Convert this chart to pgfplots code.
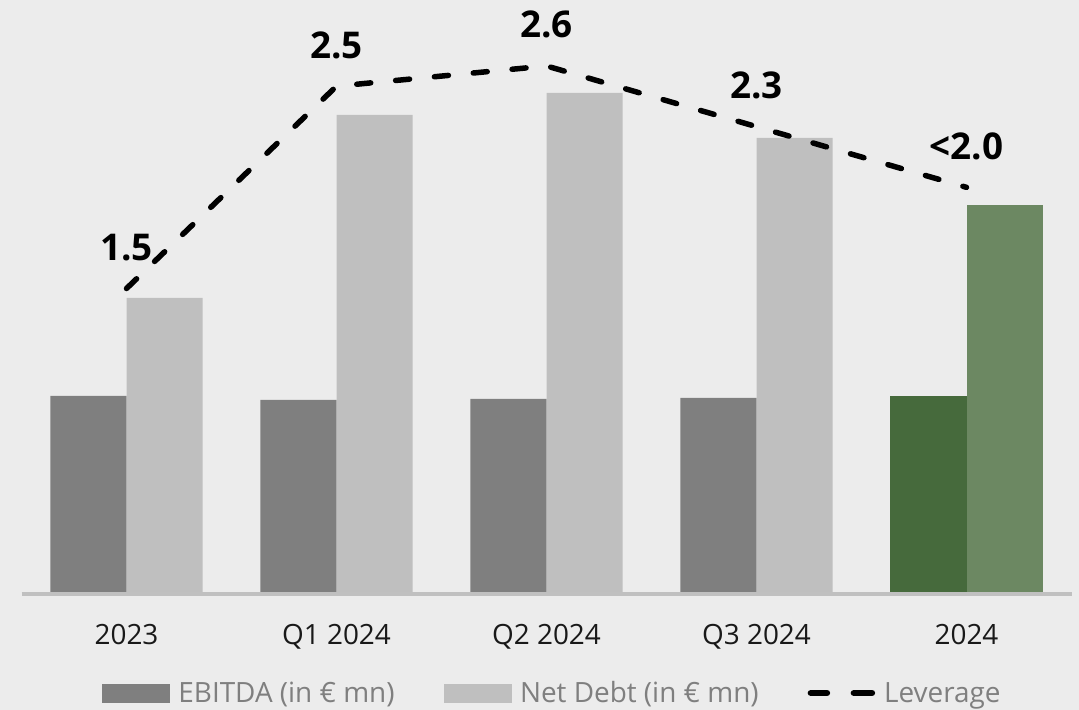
\documentclass[border=0pt]{standalone}
\usepackage{fontspec}
\setmainfont{Open Sans}
\usepackage{pgfplots}
\pgfplotsset{compat=1.18}
\definecolor{bg}{HTML}{ECECEC}
\definecolor{ebitda}{HTML}{7F7F7F}
\definecolor{netdebt}{HTML}{BFBFBF}
\definecolor{ebitdagreen}{HTML}{466A3C}
\definecolor{netdebtgreen}{HTML}{6C8862}
\definecolor{basec}{HTML}{C0C0C0}
\definecolor{legc}{HTML}{7F7F7F}
\begin{document}
\begin{tikzpicture}
\fill[bg] (0,0) rectangle (1079bp,710bp);
% bars: EBITDA and net debt
\begin{axis}[
    at={(21.5bp,118bp)}, anchor=south west,
    scale only axis, width=1050bp, height=592bp,
    xmin=-0.5, xmax=4.5, ymin=0, ymax=592,
    axis x line=bottom, axis y line=none,
    x axis line style={draw=none},
    xtick={0,1,2,3,4},
    xticklabels={2023,Q1 2024,Q2 2024,Q3 2024,2024},
    major tick length=0pt,
    xticklabel style={anchor=base, yshift=-52bp, font=\fontsize{28}{30}\selectfont, text=black!90},
    ytick=\empty,
    clip=false,
]
\draw[basec, line width=4bp, yshift=-2bp] (rel axis cs:0,0) -- (rel axis cs:1,0);
\addplot[ybar, bar width=76bp, bar shift=-38bp, fill=ebitda, draw=none]
  coordinates {(0,196) (1,192) (2,193) (3,194)};
\addplot[ybar, bar width=76bp, bar shift=38bp, fill=netdebt, draw=none]
  coordinates {(0,294) (1,477) (2,499) (3,454)};
\addplot[ybar, bar width=76bp, bar shift=-38bp, fill=ebitdagreen, draw=none]
  coordinates {(4,196)};
\addplot[ybar, bar width=76bp, bar shift=38bp, fill=netdebtgreen, draw=none]
  coordinates {(4,387)};
\end{axis}
% leverage line
\begin{axis}[
    at={(21.5bp,118bp)}, anchor=south west,
    scale only axis, width=1050bp, height=592bp,
    xmin=-0.5, xmax=4.5, ymin=0, ymax=2.926,
    hide axis, clip=false,
    legend columns=3,
    legend cell align=left,
    legend style={
        draw=none, fill=none, inner sep=0pt, outer sep=0pt,
        at={(axis description cs:0.0767,-0.1706)}, anchor=west,
        font=\fontsize{28}{30}\selectfont, text=legc,
        nodes={inner sep=0pt},
        /tikz/every odd column/.append style={column sep=9bp},
        /tikz/every even column/.append style={column sep=49bp},
    },
]
\addlegendimage{legend image code/.code={\fill[ebitda] (0bp,-9bp) rectangle (67bp,9bp);}}
\addlegendentry{EBITDA (in € mn)}
\addlegendimage{legend image code/.code={\fill[netdebt] (0bp,-9bp) rectangle (67bp,9bp);}}
\addlegendentry{Net Debt (in € mn)}
\addplot[black, line width=5.5bp, dash pattern=on 14bp off 25bp, line cap=round, line join=round,
    nodes near coords, point meta=explicit symbolic,
    nodes near coords style={anchor=base, yshift=28bp, text=black, font=\fontsize{37}{40}\selectfont\bfseries},
    legend image code/.code={\draw[solid, black, line width=6.5bp, line cap=round] (3bp,0) -- (19bp,0) (46bp,0) -- (64bp,0);}]
  coordinates {(0,1.5) [1.5] (1,2.5) [2.5] (2,2.6) [2.6] (3,2.3) [2.3] (4,2.0) [<2.0]};
\addlegendentry{Leverage}
\end{axis}
\end{tikzpicture}
\end{document}
